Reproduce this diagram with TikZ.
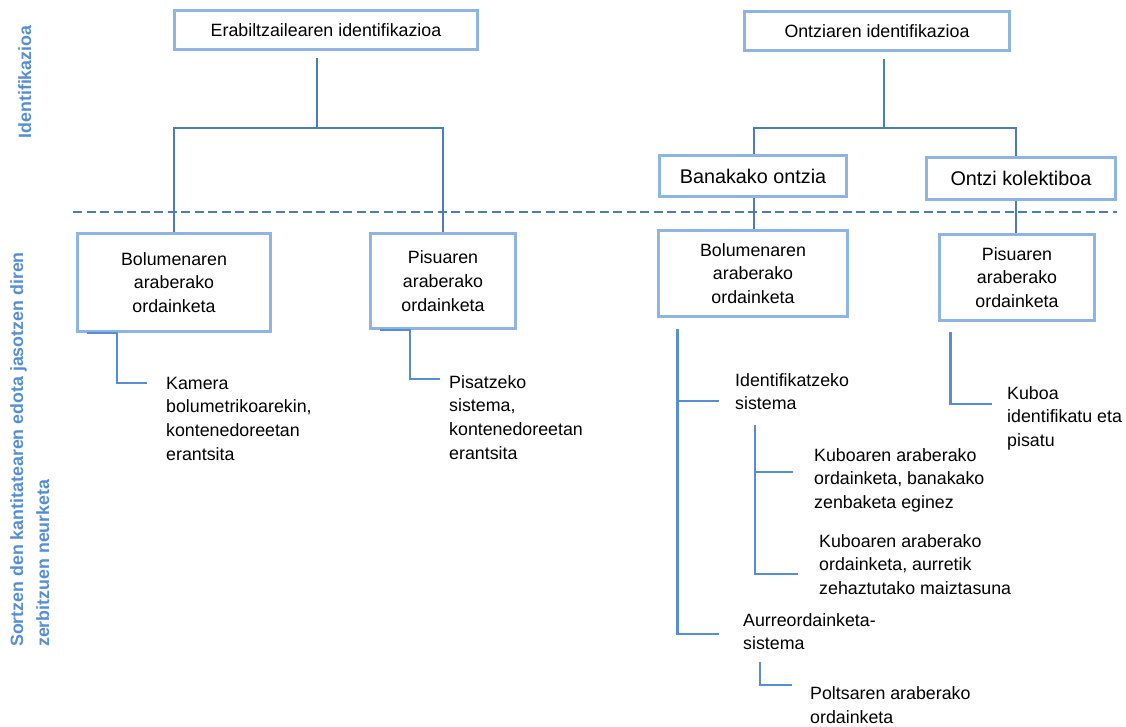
\documentclass[tikz,border=0pt]{standalone}
\usepackage{fontspec}
\setmainfont{Liberation Sans}
\usetikzlibrary{calc}
\definecolor{boxc}{RGB}{141,180,226}
\definecolor{treec}{RGB}{74,126,187}
\definecolor{leafc}{RGB}{85,142,213}
\definecolor{labc}{RGB}{85,142,213}
\tikzset{
 box/.style={draw=boxc, line width=3pt, rectangle, inner sep=0pt, align=center, font=\fontsize{17.8}{23.8}\selectfont},
 bigbox/.style={box, font=\fontsize{19.8}{24}\selectfont},
 conn/.style={draw=treec, line width=2.6pt},
 leaf/.style={draw=leafc, line width=2.6pt},
 dashline/.style={draw=treec, line width=2pt, dash pattern=on 9pt off 4.5pt},
 txt/.style={inner sep=0pt, align=left, anchor=base west, font=\fontsize{17.8}{23.8}\selectfont},
 side/.style={text=labc, font=\fontsize{17.8}{26}\selectfont\bfseries, rotate=90, inner sep=0pt, align=left},
}
\begin{document}
\begin{tikzpicture}[x=1pt,y=-1pt]
\useasboundingbox (0,0) rectangle (1126,726);

% dashed separator
\coordinate (dl) at (73,212);
\coordinate (dr) at (1117,212);
\draw[dashline] (dl) -- (dr);

% boxes
\node[box, minimum width=303pt, minimum height=39pt] (E) at (326,30) {Erabiltzailearen identifikazioa};
\node[box, minimum width=265pt, minimum height=39pt] (O) at (877,31) {Ontziaren identifikazioa};
\node[bigbox, minimum width=187pt, minimum height=41pt] (Ban) at (753,176) {Banakako ontzia};
\node[bigbox, minimum width=189pt, minimum height=42pt] (Kol) at (1021,178.5) {Ontzi kolektiboa};
\node[box, minimum width=193pt, minimum height=98pt] (BolL) at (174,282.5) {Bolumenaren\\araberako\\ordainketa};
\node[box, minimum width=145pt, minimum height=95pt] (PisL) at (443,281) {Pisuaren\\araberako\\ordainketa};
\node[box, minimum width=189pt, minimum height=86pt] (BolR) at (753,273.5) {Bolumenaren\\araberako\\ordainketa};
\node[box, minimum width=155pt, minimum height=86pt] (PisR) at (1017,277.5) {Pisuaren\\araberako\\ordainketa};

% tree connectors
\coordinate (j1) at (317,128);
\draw[conn] ($(E.south -| j1)+(0,7)$) -- (j1);
\draw[conn] (BolL.north) |- (j1) -| (PisL.north);
\coordinate (j2) at (884,128);
\draw[conn] ($(O.south -| j2)+(0,7)$) -- (j2);
\draw[conn] ([xshift=1pt]Ban.north) |- (j2) -| ([xshift=-5pt]Kol.north);
\draw[conn] ([xshift=1pt]Ban.south) -- ([xshift=1pt]BolR.north);
\draw[conn] ([xshift=-5pt]Kol.south) -- ([xshift=-1pt]PisR.north);

% leaf texts (anchor = baseline of the last line)
\node[txt] (Kam) at (166,460.4) {Kamera\\bolumetrikoarekin,\\kontenedoreetan\\erantsita};
\node[txt] (Pis) at (449,459.4) {Pisatzeko\\sistema,\\kontenedoreetan\\erantsita};
\node[txt] (Ide) at (735,409.8) {Identifikatzeko\\sistema};
\node[txt] (KubA) at (814,508.6) {Kuboaren araberako\\ordainketa, banakako\\zenbaketa eginez};
\node[txt] (KubB) at (819,594.6) {Kuboaren araberako\\ordainketa, aurretik\\zehaztutako maiztasuna};
\node[txt] (Aur) at (743,649.8) {Aurreordainketa-\\sistema};
\node[txt] (Pol) at (810,723) {Poltsaren araberako\\ordainketa};
\node[txt] (Kub) at (1007,446.6) {Kuboa\\identifikatu eta\\pisatu};

% leaf connectors
\coordinate (k1) at (147,383);
\draw[leaf] ([xshift=11pt]BolL.south west) -- ([xshift=41pt]BolL.south west) |- (k1);
\coordinate (k2) at (440,379);
\draw[leaf] ([xshift=11pt]PisL.south west) -- ([xshift=41pt]PisL.south west) |- (k2);

\coordinate (r1s) at ($(BolR.south west)+(20.5,10.5)$);
\coordinate (r1a) at (719,401);
\coordinate (r1b) at (719,634);
\draw[leaf] (r1s) |- (r1b);
\draw[leaf] (r1s |- r1a) -- (r1a);

\coordinate (r2s) at (755,425);
\coordinate (r2a) at (793,472);
\coordinate (r2b) at (798,574);
\draw[leaf] (r2s) |- (r2b);
\draw[leaf] (r2s |- r2a) -- (r2a);

\coordinate (r3s) at (760,662);
\coordinate (r3b) at (792,685);
\draw[leaf] (r3s) |- (r3b);

\coordinate (r4b) at (992,404);
\draw[leaf] ($(PisR.south west)+(12.5,9.5)$) |- (r4b);

% side labels
\node[side, anchor=base] (s1) at (31,82) {Identifikazioa};
\node[side, anchor=base west] (s2) at (49,647) {Sortzen den kantitatearen edota jasotzen diren\\zerbitzuen neurketa};
\end{tikzpicture}
\end{document}
